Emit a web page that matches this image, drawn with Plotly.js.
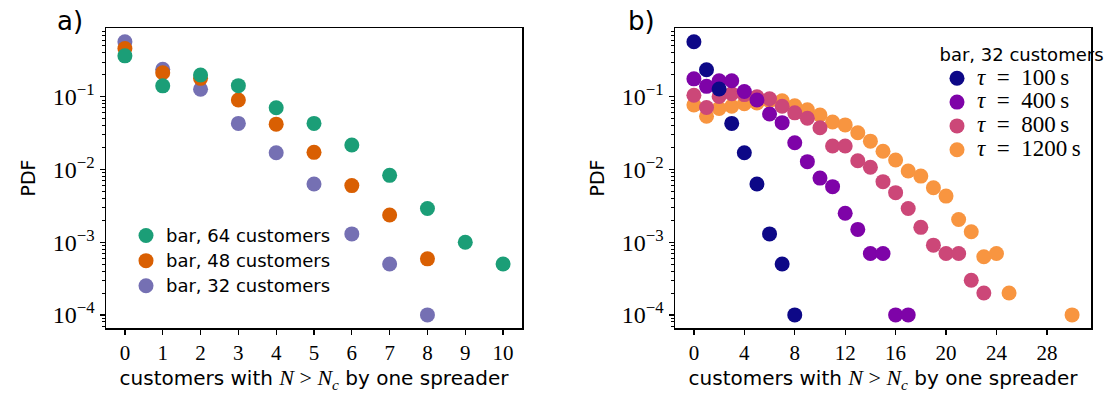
<!DOCTYPE html>
<html>
<head>
<meta charset="utf-8">
<script src="https://cdn.plot.ly/plotly-3.0.1.min.js"></script>
<style>html,body{margin:0;padding:0;background:#fff;}#chart{width:1107px;height:394px;}</style>
</head>
<body>
<div id="chart"></div>
<script>
// ---- Panel a) data ----
const aX64 = [0, 1, 2, 3, 4, 5, 6, 7, 8, 9, 10];
const aY64 = [0.365, 0.141, 0.199, 0.142, 0.0706, 0.043, 0.0217, 0.0083, 0.0029, 0.001, 0.0005];
const aX48 = [0, 1, 2, 3, 4, 5, 6, 7, 8];
const aY48 = [0.46, 0.214, 0.179, 0.09, 0.042, 0.0172, 0.006, 0.00236, 0.00059];
const aX32 = [0, 1, 2, 3, 4, 5, 6, 7, 8];
const aY32 = [0.57, 0.238, 0.127, 0.043, 0.017, 0.0063, 0.0013, 0.0005, 0.0001];
const aNames = ["bar, 64 customers", "bar, 48 customers", "bar, 32 customers"];

// ---- Panel b) data (bar, 32 customers) ----
const bX100 = [0, 1, 2, 3, 4, 5, 6, 7, 8];
const bY100 = [0.57, 0.235, 0.128, 0.043, 0.017, 0.0063, 0.0013, 0.0005, 0.0001];
const bX400 = [0, 1, 2, 3, 4, 5, 6, 7, 8, 9, 10, 11, 12, 13, 14, 15, 16, 17];
const bY400 = [0.176, 0.139, 0.166, 0.166, 0.118, 0.09, 0.058, 0.044, 0.0233, 0.0128, 0.0076, 0.0058, 0.0025, 0.0015, 0.0007, 0.0007, 0.0001, 0.0001];
const bX800 = [0, 1, 2, 3, 4, 5, 6, 7, 8, 9, 10, 11, 12, 13, 14, 15, 16, 17, 18, 19, 20, 21, 22, 23];
const bY800 = [0.105, 0.071, 0.101, 0.11, 0.107, 0.1, 0.094, 0.074, 0.06, 0.0505, 0.0375, 0.021, 0.021, 0.0132, 0.0107, 0.0068, 0.0048, 0.0029, 0.0016, 0.00091, 0.0007, 0.0007, 0.0003, 0.0002];
const bX1200 = [0, 1, 2, 3, 4, 5, 6, 7, 8, 9, 10, 11, 12, 13, 14, 15, 16, 17, 18, 19, 20, 21, 22, 23, 24, 25, 30];
const bY1200 = [0.077, 0.054, 0.069, 0.074, 0.08, 0.082, 0.088, 0.088, 0.075, 0.066, 0.056, 0.045, 0.041, 0.032, 0.0245, 0.0178, 0.0135, 0.0095, 0.0081, 0.0056, 0.0043, 0.00205, 0.00139, 0.00063, 0.0007, 0.0002, 0.0001];
const bNames = ["100", "400", "800", "1200"];

// ---- tick labels ----
const yTickVals = [1e-4, 1e-3, 1e-2, 1e-1];
const yTickText = ["10<sup>−4</sup>", "10<sup>−3</sup>", "10<sup>−2</sup>", "10<sup>−1</sup>"];
const aXTicks = [0, 1, 2, 3, 4, 5, 6, 7, 8, 9, 10];
const bXTicks = [0, 4, 8, 12, 16, 20, 24, 28];

const colA = {c64: "#1b9e77", c48: "#d95f02", c32: "#7570b3"};
const colB = ["#0d0887", "#7e03a8", "#cc4778", "#f89540"];

const minorVals = [];
[1e-5, 1e-4, 1e-3, 1e-2, 1e-1].forEach(d => { for (let k = 2; k <= 9; k++) minorVals.push(k * d); });

const MS = 15;
const sans = "DejaVu Sans, sans-serif";
const serif = "Liberation Serif, DejaVu Serif, serif";

function mk(x, y, name, color, xa, ya, legend) {
  return {
    type: "scatter", mode: "markers", x: x, y: y, xaxis: xa, yaxis: ya,
    name: name, legend: legend,
    marker: {size: MS, color: color, line: {width: 0}},
    hoverinfo: "x+y"
  };
}

const spanA = s => '<span style="font-size:18px">' + s + '</span>';
const spanB = s => '<span style="font-family:' + serif + ';font-size:23px"><i>τ</i>&nbsp; = &nbsp;' + s + '&#8201;s</span>';

const traces = [
  mk(aX32, aY32, spanA(aNames[2]), colA.c32, "x", "y", "legend"),
  mk(aX48, aY48, spanA(aNames[1]), colA.c48, "x", "y", "legend"),
  mk(aX64, aY64, spanA(aNames[0]), colA.c64, "x", "y", "legend"),
  mk(bX1200, bY1200, spanB(bNames[3]), colB[3], "x2", "y2", "legend2"),
  mk(bX800, bY800, spanB(bNames[2]), colB[2], "x2", "y2", "legend2"),
  mk(bX400, bY400, spanB(bNames[1]), colB[1], "x2", "y2", "legend2"),
  mk(bX100, bY100, spanB(bNames[0]), colB[0], "x2", "y2", "legend2")
];

const W = 1107, H = 394;
const yDom = [(H - 328) / H, (H - 28) / H];
const xTitle = 'customers with <span style="font-family:' + serif + ';font-size:22px"><i>N</i> &gt; <i>N</i><sub><i>c</i></sub></span> by one spreader';

function yAxis(anchor) {
  return {
    type: "log", range: [-4.18, -0.055], domain: yDom, anchor: anchor,
    tickmode: "array", tickvals: yTickVals, ticktext: yTickText,
    ticks: "outside", ticklen: 5, tickwidth: 1.3, tickcolor: "#000",
    minor: {tickmode: "array", tickvals: minorVals, ticks: "outside", ticklen: 3, tickwidth: 1, tickcolor: "#000", showgrid: false},
    showline: true, linecolor: "#000", linewidth: 1.5, mirror: true,
    showgrid: false, zeroline: false,
    tickfont: {family: serif, size: 24, color: "#000"},
    title: {text: "PDF", font: {family: sans, size: 19, color: "#000"}, standoff: 12},
    automargin: false
  };
}
function xAxis(anchor, dom, range, ticks) {
  return {
    domain: dom, anchor: anchor, range: range,
    tickmode: "array", tickvals: ticks, ticktext: ticks.map(String),
    ticks: "outside", ticklen: 5, tickwidth: 1.3, tickcolor: "#000",
    showline: true, linecolor: "#000", linewidth: 1.5, mirror: true,
    showgrid: false, zeroline: false,
    tickfont: {family: serif, size: 21, color: "#000"},
    title: {text: xTitle, font: {family: sans, size: 20, color: "#000"}, standoff: 7},
    automargin: false
  };
}

const layout = {
  width: W, height: H,
  margin: {l: 0, r: 0, t: 0, b: 0},
  paper_bgcolor: "#fff", plot_bgcolor: "#fff",
  showlegend: true,
  xaxis: xAxis("y", [106 / W, 522 / W], [-0.5, 10.5], aXTicks),
  yaxis: yAxis("x"),
  xaxis2: xAxis("y2", [675 / W, 1091 / W], [-1.5, 31.5], bXTicks),
  yaxis2: yAxis("x2"),
  legend: {
    x: 126 / W, xanchor: "left", y: (H - 261) / H, yanchor: "middle",
    traceorder: "reversed", bgcolor: "rgba(0,0,0,0)", borderwidth: 0,
    font: {family: sans, size: 17, color: "#000"}
  },
  legend2: {
    x: 937 / W, xanchor: "left", y: (H - 38) / H, yanchor: "top",
    traceorder: "reversed", bgcolor: "rgba(0,0,0,0)", borderwidth: 0,
    font: {family: serif, size: 16, color: "#000"},
    title: {text: "bar, 32 customers", side: "top center", font: {family: sans, size: 18, color: "#000"}}
  },
  annotations: [
    {text: "a)", xref: "paper", yref: "paper", x: 70 / W, y: (H - 21) / H, xanchor: "center", yanchor: "middle", showarrow: false, font: {family: sans, size: 26, color: "#000"}},
    {text: "b)", xref: "paper", yref: "paper", x: 641 / W, y: (H - 21) / H, xanchor: "center", yanchor: "middle", showarrow: false, font: {family: sans, size: 26, color: "#000"}}
  ]
};

Plotly.newPlot("chart", traces, layout, {displayModeBar: false, staticPlot: true});
</script>
</body>
</html>
